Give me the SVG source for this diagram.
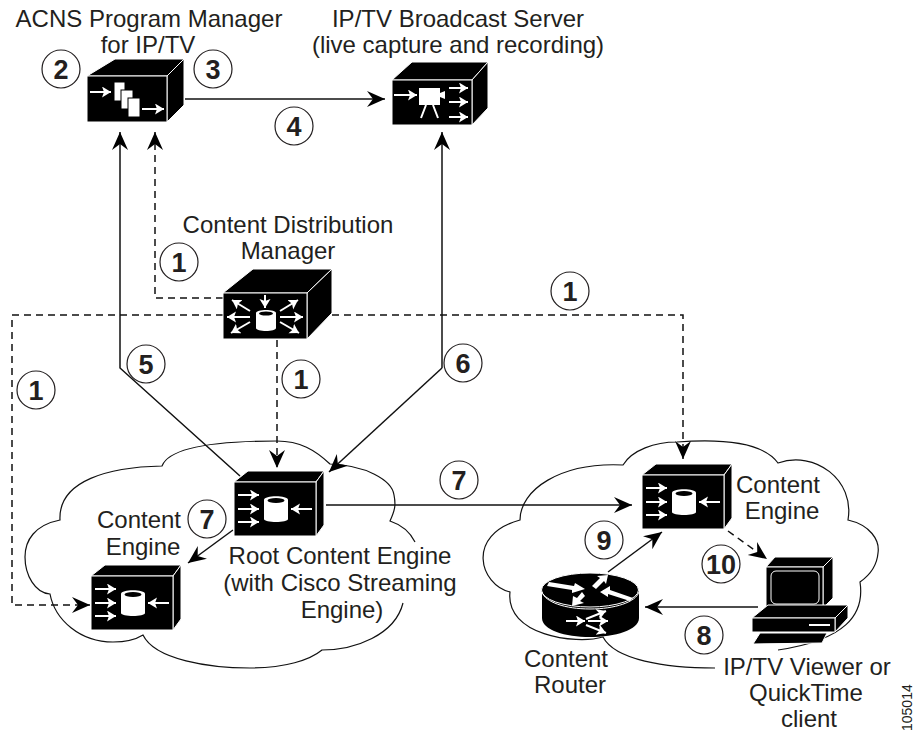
<svg xmlns="http://www.w3.org/2000/svg" width="915" height="732" viewBox="0 0 915 732">
<style>
text{font-family:"Liberation Sans",Arial,sans-serif;font-size:24px;fill:#231f20;text-anchor:middle}
.n{font-weight:bold;font-size:27px}
.c{fill:#fff;stroke:#231f20;stroke-width:1.2}
.cl{fill:none;stroke:#111;stroke-width:1.2}
.s{fill:none;stroke:#111;stroke-width:1.5}
.d{fill:none;stroke:#111;stroke-width:1.5;stroke-dasharray:7 5}
.f{fill:#000;stroke:#fff;stroke-width:1;stroke-linejoin:round}
.w{fill:none;stroke:#fff;stroke-width:2}
.t{fill:none;stroke:#fff;stroke-width:2}
.wf{fill:#fff;stroke:none}
</style>
<defs>
<marker id="a" markerUnits="userSpaceOnUse" markerWidth="20" markerHeight="18" refX="18" refY="8" orient="auto"><path d="M0 0L18 8L0 16L6 8Z" fill="#000"/></marker>
<marker id="wa" markerUnits="userSpaceOnUse" markerWidth="12" markerHeight="12" refX="9" refY="5.500" orient="auto"><path d="M0 0L9 5.500L0 11L2 5.500Z" fill="#fff"/></marker>
<g id="ce">
<path class="f" d="M0 0L14 -11H90L82 0Z"/>
<path class="f" d="M82 0L90 -11V43L82 54Z"/>
<rect class="f" width="82" height="54"/>
<path class="t" marker-end="url(#wa)" d="M4 13H25"/>
<path class="t" marker-end="url(#wa)" d="M4 27H25"/>
<path class="t" marker-end="url(#wa)" d="M4 40H25"/>
<path class="t" marker-end="url(#wa)" d="M78 27H57"/>
<path class="wf" d="M30 18C30 13 54 13 54 18V37C54 41 30 41 30 37Z"/>
<ellipse cx="42" cy="18.500" rx="8.500" ry="2.500" fill="#000"/>
</g>
</defs>
<g id="clouds">
<path class="cl" d="M415 542C410 532 402 525 390 521C395 510 396 505 394 495C392 480 365 465 330 464C315 450 300 441 277 441C225 441 170 445 162 466C110 467 58 480 60 520C35 525 25 540 25 557C25 575 35 593 50 594C55 620 80 642 113 642C125 642 135 640 143 635C155 660 210 668 250 668C285 668 310 660 322 650C355 650 395 635 403 603"/>
<path class="cl" d="M715 668C665 668 615 660 603 637C575 645 505 635 510 592C480 585 465 535 520 520C520 490 560 462 623 465C632 450 655 442 677 442C730 438 765 445 778 463C815 450 855 480 848 520C870 525 880 540 878 553C877 565 870 575 860 582C865 615 845 640 778 650"/>
</g>
<g id="connectors">
<path class="s" marker-end="url(#a)" d="M240 476L120 368V132"/>
<path class="d" marker-end="url(#a)" d="M223 298H155V132"/>
<path class="s" marker-end="url(#a)" d="M185 99H385"/>
<path class="s" marker-end="url(#a)" d="M442 368V132"/>
<path class="s" marker-end="url(#a)" d="M442 368L329 472"/>
<path class="d" marker-end="url(#a)" d="M277 340V468"/>
<path class="d" marker-end="url(#a)" d="M223 315H12V605H90"/>
<path class="d" marker-end="url(#a)" d="M332 315H683V459"/>
<path class="s" marker-end="url(#a)" d="M326 505H632"/>
<path class="s" marker-end="url(#a)" d="M233 530L188 563"/>
<path class="s" marker-end="url(#a)" d="M608 572L662 532"/>
<path class="d" marker-end="url(#a)" d="M728 531L767 559"/>
<path class="s" marker-end="url(#a)" d="M758 607H645"/>
</g>
<g id="program-manager">
<path class="f" d="M87 76L115 59H184L167 76Z"/><path class="f" d="M167 76L184 59V105L167 122Z"/><rect class="f" x="87" y="76" width="80" height="46"/>
<path class="w" marker-end="url(#wa)" d="M90 92H111"/>
<rect x="114" y="82" width="11" height="19" fill="#fff" stroke="#000"/><rect x="121" y="90" width="12" height="19" fill="#fff" stroke="#000"/><rect x="128" y="98" width="12" height="19" fill="#fff" stroke="#000"/>
<path class="w" marker-end="url(#wa)" d="M142 109H164"/>
<text x="149" y="27">ACNS Program Manager</text><text x="148" y="53">for IP/TV</text>
</g>
<g id="broadcast-server">
<path class="f" d="M392 80L412 62H488L472 80Z"/><path class="f" d="M472 80L488 62V108L472 125Z"/><rect class="f" x="392" y="80" width="80" height="45"/>
<path class="w" marker-end="url(#wa)" d="M394 95H417"/>
<rect class="wf" x="419" y="88" width="21" height="17"/><path class="wf" d="M440 93L445 91V99L440 97Z"/><path class="t" d="M426 105L421 118M433 105L438 118"/>
<path class="w" marker-end="url(#wa)" d="M449 88H468"/><path class="w" marker-end="url(#wa)" d="M449 102H468"/><path class="w" marker-end="url(#wa)" d="M449 117H468"/>
<text x="458" y="27">IP/TV Broadcast Server</text><text x="458" y="53">(live capture and recording)</text>
</g>
<g id="content-distribution-manager">
<path class="f" d="M223 293L253 269H332L307 293Z"/><path class="f" d="M307 293L332 269V313L307 339Z"/><rect class="f" x="223" y="293" width="84" height="46"/>
<path class="w" marker-end="url(#wa)" d="M265 295V308"/>
<path class="w" marker-end="url(#wa)" d="M250 311L232 300"/><path class="w" marker-end="url(#wa)" d="M250 317H227"/><path class="w" marker-end="url(#wa)" d="M250 322L231 333"/>
<path class="w" marker-end="url(#wa)" d="M280 311L298 300"/><path class="w" marker-end="url(#wa)" d="M280 317H303"/><path class="w" marker-end="url(#wa)" d="M280 322L299 333"/>
<path class="wf" d="M256 313C256 309 276 309 276 313V328C276 332 256 332 256 328Z"/><ellipse cx="266" cy="313.500" rx="7" ry="2" fill="#000"/>
<text x="288" y="233">Content Distribution</text><text x="288" y="259">Manager</text>
</g>
<g id="root-content-engine">
<use href="#ce" x="234" y="482"/>
<text x="340" y="564">Root Content Engine</text><text x="340" y="591">(with Cisco Streaming</text><text x="342" y="618">Engine)</text>
</g>
<g id="content-engine-left">
<use href="#ce" x="91" y="576"/>
<text x="139" y="528">Content</text><text x="143" y="555">Engine</text>
</g>
<g id="content-engine-right">
<use href="#ce" x="642" y="475"/>
<text x="778" y="493">Content</text><text x="782" y="519">Engine</text>
</g>
<g id="content-router">
<path d="M542 590V618C542 630 565 637 590 637C615 637 639 630 639 618V590Z" fill="#000"/>
<ellipse cx="590" cy="590" rx="48.500" ry="17" fill="#000" stroke="#fff"/>
<path class="w" style="stroke-width:1" d="M542 592C545 602 565 609 590 609C615 609 636 602 639 592"/>
<path class="wf" d="M549 582L574 586L575 583L585 589L572 593L572 590L547 586ZM592 586L600 578L597 576L608 575L606 584L604 581L596 589ZM600 592L610 586V590L633 598L630 601L608 594V597ZM582 592L585 596L580 601L584 603L572 606L573 596L577 598Z"/>
<path class="t" marker-end="url(#wa)" d="M566 621H585"/>
<path class="t" marker-end="url(#wa)" d="M586 619L606 611"/><path class="t" marker-end="url(#wa)" d="M588 621H608"/><path class="t" marker-end="url(#wa)" d="M586 625L606 633"/>
<text x="566" y="667">Content</text><text x="570" y="693">Router</text>
</g>
<g id="viewer">
<path class="f" d="M766 567L775 557H833L823 567Z"/><path class="f" d="M823 567L833 557V598L823 608Z"/><rect class="f" x="766" y="567" width="57" height="45"/>
<rect x="771" y="571" width="48" height="33" rx="5" fill="#000" stroke="#fff" stroke-width="1"/>
<path class="f" d="M752 618L768 605H848L835 618Z"/><path class="f" d="M835 618L848 605V618L835 632Z"/><rect class="f" x="752" y="618" width="83" height="14"/>
<path class="t" d="M809 625H830"/>
<path class="f" d="M753 644L760 633H827L822 643Z"/>
<text x="807" y="675">IP/TV Viewer or</text><text x="806" y="701">QuickTime</text><text x="809" y="727">client</text>
</g>
<g id="step-badges">
<circle class="c" cx="61" cy="69" r="19"/><text class="n" x="61" y="79">2</text>
<circle class="c" cx="213" cy="69" r="19"/><text class="n" x="213" y="79">3</text>
<circle class="c" cx="294" cy="126" r="19"/><text class="n" x="294" y="136">4</text>
<circle class="c" cx="179" cy="262" r="19"/><text class="n" x="179" y="272">1</text>
<circle class="c" cx="570" cy="291" r="19"/><text class="n" x="570" y="301">1</text>
<circle class="c" cx="146" cy="364" r="19"/><text class="n" x="146" y="374">5</text>
<circle class="c" cx="301" cy="379" r="19"/><text class="n" x="301" y="389">1</text>
<circle class="c" cx="463" cy="363" r="19"/><text class="n" x="463" y="373">6</text>
<circle class="c" cx="36" cy="390" r="19"/><text class="n" x="36" y="400">1</text>
<circle class="c" cx="459" cy="480" r="19"/><text class="n" x="459" y="490">7</text>
<circle class="c" cx="207" cy="519" r="19"/><text class="n" x="207" y="529">7</text>
<circle class="c" cx="604" cy="540" r="19"/><text class="n" x="604" y="550">9</text>
<circle class="c" cx="721" cy="564" r="19"/><text class="n" x="721" y="574">10</text>
<circle class="c" cx="704" cy="635" r="19"/><text class="n" x="704" y="645">8</text>
</g>
<text transform="translate(912 731) rotate(-90)" style="font-size:14px;text-anchor:start" x="0" y="0">105014</text>
</svg>
